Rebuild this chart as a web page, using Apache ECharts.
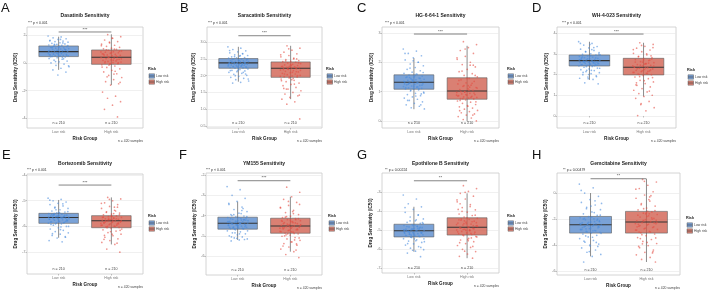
<!DOCTYPE html>
<html><head><meta charset="utf-8">
<script src="https://cdn.jsdelivr.net/npm/echarts@6/dist/echarts.min.js"></script>
<style>html,body{margin:0;padding:0;background:#fff}#c{width:708px;height:291px}</style>
</head><body><div id="c"></div>
<script>
// ---------------- DATA ----------------
const letters = ['A','B','C','D','E','F','G','H'];
const titles = ['Dasatinib Sensitivity','Saracatinib Sensitivity','HG-6-64-1 Sensitivity','WH-4-023 Sensitivity',
  'Bortezomib Sensitivity','YM155 Sensitivity','Epothilone B Sensitivity','Gemcitabine Sensitivity'];
const pTexts = ['*** p < 0.001','*** p < 0.001','*** p < 0.001','*** p < 0.001',
  '*** p < 0.001','*** p < 0.001','** p = 0.00224','** p = 0.00479'];
const sigMarks = ['***','***','***','***','***','***','**','**'];
const sigY = [2.24, 3.19, 2.96, 3.95, -4.39, -2.28, -2.39, 1.1];
const groups = ['Low risk','High risk'];
const nLabels = ['n = 210','n = 210'];
const totalLabel = 'n = 420 samples';
const legendTitle = 'Risk';
const yTicks = [[-4,-2,0,2],[0.5,1,1.5,2,2.5,3],[0,1,2,3],[0,1,2,3,4],[-7,-6,-5,-4],[-6,-5,-4,-3,-2],[-7,-6,-5,-4,-3],[-6,-4,-2,0]];

// box stats: [min, q1, median, q3, max]
const boxA_low = [-0.5,0.46,0.82,1.23,1.9],   boxA_high = [-1.59,-0.1,0.41,0.94,2.07];
const boxB_low = [1.82,2.22,2.38,2.51,2.86],  boxB_high = [1.30,1.95,2.22,2.41,2.89];
const boxC_low = [0.40,1.08,1.32,1.57,2.14],  boxC_high = [0.0,0.74,1.02,1.47,2.56];
const boxD_low = [1.74,2.41,2.67,2.94,3.58],  boxD_high = [0.94,1.98,2.35,2.78,3.53];
const boxE_low = [-6.44,-5.88,-5.65,-5.49,-4.97], boxE_high = [-6.70,-6.05,-5.78,-5.58,-4.87];
const boxF_low = [-5.2,-4.67,-4.38,-4.08,-3.31],  boxF_high = [-5.78,-4.87,-4.51,-4.13,-3.07];
const boxG_low = [-6.13,-5.35,-5.02,-4.68,-3.76], boxG_high = [-6.47,-5.25,-4.84,-4.34,-3.05];
const boxH_low = [-4.87,-3.08,-2.44,-1.8,0.0],    boxH_high = [-5.3,-3.08,-2.23,-1.41,1.08];

// individual sample values (read from the jittered points)
const ptsA_low = [1.95,1.88,1.82,1.75,1.7,1.64,1.58,1.55,1.5,1.46,1.42,1.38,1.34,1.3,1.27,
 1.22,1.19,1.16,1.13,1.1,1.07,1.04,1.01,0.98,0.95,0.92,0.9,0.88,0.86,0.84,
 0.8,0.77,0.75,0.72,0.7,0.67,0.65,0.62,0.6,0.58,0.55,0.53,0.51,0.49,0.47,
 0.43,0.38,0.33,0.27,0.2,0.14,0.08,0.0,-0.08,-0.17,-0.27,-0.38,-0.5,-0.66,-0.87,
 1.6,1.45,1.3,1.25,1.2,1.1,1.0,0.9,0.85,0.75,0.65,0.55,0.5,0.45,0.3,0.1,-0.2,1.7,1.15,0.95,0.7,0.6,0.4,1.35];
const ptsA_high = [2.05,1.9,1.78,1.66,1.55,1.45,1.36,1.28,1.2,1.13,1.07,1.02,0.98,
 0.92,0.87,0.82,0.78,0.74,0.7,0.66,0.62,0.58,0.55,0.51,0.48,0.45,0.43,
 0.39,0.35,0.31,0.27,0.23,0.19,0.15,0.11,0.07,0.03,0.0,-0.04,-0.08,
 -0.13,-0.22,-0.32,-0.42,-0.53,-0.65,-0.78,-0.9,-1.05,-1.2,-1.35,-1.5,-1.6,
 -2.1,-2.4,-2.55,-2.8,-3.05,-3.35,-3.9,
 1.5,1.25,1.0,0.95,0.85,0.75,0.65,0.5,0.4,0.3,0.2,0.1,0.0,-0.05,-0.3,-0.6,-1.0,-1.4,1.8,0.6,0.25,-0.15,0.8,-0.8];
const ptsB_low = [2.86,2.82,2.78,2.74,2.71,2.68,2.65,2.62,2.6,2.58,2.56,2.54,2.53,2.52,
 2.5,2.49,2.47,2.46,2.45,2.44,2.43,2.42,2.41,2.40,2.39,2.38,
 2.37,2.36,2.35,2.34,2.33,2.32,2.31,2.30,2.29,2.28,2.27,2.26,2.25,2.24,2.23,2.22,
 2.2,2.18,2.16,2.14,2.12,2.1,2.07,2.04,2.01,1.98,1.95,1.92,1.88,1.84,1.8,1.78,2.05,2.15,
 2.75,2.66,2.57,2.5,2.45,2.42,2.39,2.36,2.33,2.3,2.27,2.24,2.2,2.15,2.1,2.0,1.9,2.6,2.48,2.35,2.28,2.38,2.32,2.4];
const ptsB_high = [2.89,2.82,2.76,2.7,2.65,2.6,2.56,2.52,2.48,2.45,2.43,2.42,
 2.4,2.38,2.36,2.34,2.32,2.3,2.28,2.27,2.26,2.25,2.24,2.23,2.22,
 2.21,2.19,2.17,2.15,2.13,2.11,2.09,2.07,2.05,2.03,2.01,1.99,1.97,1.96,
 1.93,1.9,1.86,1.82,1.78,1.74,1.7,1.65,1.6,1.55,1.5,1.45,1.4,1.35,1.3,1.22,1.15,0.71,1.88,1.62,2.5,
 2.8,2.62,2.5,2.44,2.38,2.33,2.28,2.24,2.2,2.16,2.1,2.05,2.0,1.96,1.85,1.75,1.6,1.42,2.3,2.18,2.12,2.25,1.98,1.92];
const ptsC_low = [2.45,2.38,2.3,2.22,2.15,2.08,2.0,1.94,1.88,1.82,1.76,1.71,1.66,1.62,1.59,
 1.56,1.53,1.5,1.48,1.46,1.44,1.42,1.4,1.38,1.36,1.34,1.33,
 1.31,1.29,1.27,1.25,1.23,1.21,1.19,1.17,1.15,1.13,1.11,1.1,1.09,
 1.06,1.02,0.98,0.94,0.9,0.86,0.82,0.78,0.74,0.7,0.65,0.6,0.55,0.5,0.45,0.41,1.6,1.25,0.92,2.05,
 2.3,2.0,1.8,1.65,1.55,1.5,1.45,1.4,1.35,1.3,1.28,1.22,1.18,1.14,1.1,1.05,0.95,0.85,0.7,0.55,1.38,1.26,1.16,1.48];
const ptsC_high = [2.7,2.6,2.5,2.4,2.3,2.2,2.1,2.0,1.92,1.84,1.76,1.68,1.61,1.55,1.5,
 1.45,1.4,1.35,1.3,1.26,1.22,1.18,1.14,1.1,1.07,1.04,
 1.0,0.97,0.94,0.92,0.9,0.88,0.86,0.84,0.82,0.8,0.78,0.76,0.75,
 0.72,0.68,0.64,0.6,0.56,0.52,0.48,0.44,0.4,0.36,0.32,0.28,0.24,0.2,0.15,0.1,0.05,0.0,1.2,0.7,1.9,
 2.45,2.15,1.9,1.7,1.55,1.45,1.38,1.28,1.2,1.12,1.05,1.0,0.95,0.9,0.85,0.8,0.76,0.65,0.5,0.35,0.2,0.98,0.88,1.15];
const ptsD_low = [3.58,3.5,3.42,3.35,3.28,3.22,3.16,3.1,3.05,3.0,2.97,
 2.93,2.9,2.87,2.84,2.81,2.78,2.76,2.74,2.72,2.7,2.68,
 2.66,2.64,2.62,2.6,2.58,2.56,2.54,2.52,2.5,2.48,2.46,2.44,2.42,
 2.39,2.35,2.31,2.27,2.23,2.19,2.14,2.09,2.04,1.99,1.94,1.88,1.82,1.76,1.6,1.55,
 3.45,2.8,2.55,2.2,2.95,3.2,2.62,2.45,2.0,
 3.5,3.3,3.1,2.98,2.9,2.85,2.8,2.75,2.7,2.65,2.6,2.55,2.5,2.47,2.43,2.38,2.3,2.2,2.1,1.9,1.8,2.72,2.58,2.64];
const ptsD_high = [3.53,3.45,3.36,3.27,3.18,3.1,3.02,2.95,2.88,2.82,
 2.77,2.72,2.67,2.62,2.57,2.52,2.48,2.44,2.4,2.37,
 2.33,2.3,2.27,2.24,2.2,2.17,2.14,2.1,2.06,2.02,1.99,
 1.95,1.88,1.8,1.72,1.64,1.56,1.48,1.4,1.32,1.24,1.16,1.08,1.0,0.94,
 0.85,0.7,0.55,0.4,0.25,0.02,2.9,2.6,2.35,2.15,1.9,3.3,2.5,1.6,2.7,
 3.4,3.2,3.0,2.85,2.75,2.7,2.6,2.55,2.45,2.4,2.32,2.28,2.22,2.18,2.1,2.05,2.0,1.85,1.7,1.5,1.2,0.6,2.42,2.52];
const ptsE_low = [-4.9,-4.95,-5.0,-5.05,-5.1,-5.15,-5.2,-5.25,-5.3,-5.35,-5.4,-5.44,-5.47,
 -5.5,-5.52,-5.54,-5.56,-5.58,-5.6,-5.62,-5.63,-5.64,-5.65,
 -5.66,-5.68,-5.7,-5.72,-5.74,-5.76,-5.78,-5.8,-5.82,-5.84,-5.86,-5.87,
 -5.9,-5.95,-6.0,-6.05,-6.1,-6.15,-6.2,-6.25,-6.3,-6.35,-6.4,-6.45,-6.55,-6.6,
 -5.55,-5.75,-5.45,-5.92,-5.62,-5.35,-5.7,-6.02,-5.58,-5.8,-5.68,
 -4.98,-5.12,-5.28,-5.42,-5.48,-5.53,-5.57,-5.61,-5.64,-5.67,-5.71,-5.75,-5.79,-5.83,-5.86,-5.9,-6.0,-6.12,-6.28,-6.42,-5.6,-5.72,-5.66,-5.5];
const ptsE_high = [-4.87,-4.93,-5.0,-5.08,-5.15,-5.22,-5.3,-5.37,-5.43,-5.48,-5.52,-5.55,
 -5.59,-5.62,-5.65,-5.68,-5.7,-5.72,-5.74,-5.76,-5.77,
 -5.79,-5.81,-5.84,-5.87,-5.9,-5.93,-5.96,-5.99,-6.02,-6.04,
 -6.08,-6.13,-6.18,-6.24,-6.3,-6.36,-6.42,-6.48,-6.55,-6.62,-6.7,-6.88,-7.0,
 -5.6,-5.85,-5.95,-5.7,-6.1,-5.5,-5.78,-5.9,-6.2,-5.65,-5.4,-6.0,-5.82,-5.75,-6.35,-5.25,
 -4.95,-5.1,-5.25,-5.45,-5.55,-5.6,-5.64,-5.7,-5.73,-5.78,-5.8,-5.83,-5.86,-5.9,-5.95,-6.0,-6.05,-6.15,-6.3,-6.5,-6.65,-5.75,-5.88,-5.68];
const ptsF_low = [-2.57,-2.72,-3.0,-3.15,-3.3,-3.45,-3.58,-3.7,-3.8,-3.88,-3.95,-4.02,-4.06,
 -4.1,-4.14,-4.18,-4.22,-4.25,-4.28,-4.31,-4.34,-4.36,-4.38,
 -4.4,-4.43,-4.46,-4.49,-4.52,-4.55,-4.58,-4.61,-4.64,-4.66,
 -4.7,-4.75,-4.8,-4.85,-4.9,-4.95,-5.0,-5.05,-5.1,-5.15,-5.2,-5.25,
 -4.2,-4.45,-4.3,-3.9,-4.6,-4.12,-4.5,-4.35,-3.65,-4.85,-4.25,-4.4,-4.0,-4.55,-5.12,
 -3.4,-3.75,-3.95,-4.05,-4.1,-4.15,-4.2,-4.27,-4.33,-4.37,-4.42,-4.48,-4.53,-4.58,-4.63,-4.67,-4.75,-4.9,-5.05,-5.18,-4.32,-4.46,-4.22,-4.6];
const ptsF_high = [-2.6,-2.85,-3.07,-3.2,-3.35,-3.5,-3.62,-3.74,-3.85,-3.95,-4.03,-4.1,
 -4.15,-4.2,-4.25,-4.3,-4.35,-4.4,-4.44,-4.48,-4.51,
 -4.54,-4.58,-4.62,-4.66,-4.7,-4.74,-4.78,-4.82,-4.86,
 -4.9,-4.96,-5.02,-5.08,-5.15,-5.22,-5.3,-5.38,-5.46,-5.55,-5.65,-5.78,-5.92,-6.07,
 -4.3,-4.6,-4.2,-4.9,-4.45,-3.8,-5.0,-4.7,-4.55,-4.25,-5.2,-4.05,-3.45,-4.8,-4.4,-5.4,
 -3.3,-3.6,-3.9,-4.08,-4.15,-4.22,-4.28,-4.36,-4.42,-4.5,-4.55,-4.6,-4.66,-4.72,-4.8,-4.88,-4.95,-5.1,-5.3,-5.5,-5.7,-4.48,-4.62,-4.35];
const ptsG_low = [-3.14,-3.35,-3.6,-3.76,-3.9,-4.05,-4.18,-4.3,-4.4,-4.5,-4.58,-4.64,
 -4.7,-4.74,-4.78,-4.82,-4.86,-4.9,-4.93,-4.96,-4.99,-5.01,
 -5.03,-5.06,-5.09,-5.12,-5.15,-5.18,-5.21,-5.24,-5.27,-5.3,-5.33,
 -5.38,-5.44,-5.5,-5.57,-5.64,-5.71,-5.78,-5.86,-5.94,-6.02,-6.1,-6.2,-6.39,
 -4.95,-5.1,-4.8,-5.2,-4.6,-5.45,-5.0,-4.88,-5.25,-5.6,-4.45,-5.05,-5.15,-4.75,
 -3.8,-4.2,-4.5,-4.65,-4.72,-4.8,-4.85,-4.92,-4.98,-5.02,-5.07,-5.13,-5.19,-5.26,-5.31,-5.36,-5.45,-5.55,-5.7,-5.9,-6.05,-5.0,-4.9,-5.12];
const ptsG_high = [-2.65,-2.8,-2.95,-3.05,-3.2,-3.35,-3.5,-3.65,-3.8,-3.92,-4.04,-4.14,-4.22,-4.3,
 -4.37,-4.42,-4.47,-4.52,-4.57,-4.62,-4.67,-4.72,-4.77,-4.82,
 -4.86,-4.9,-4.94,-4.98,-5.02,-5.06,-5.1,-5.14,-5.18,-5.22,
 -5.28,-5.35,-5.43,-5.51,-5.6,-5.7,-5.8,-5.9,-6.0,-6.12,-6.25,-6.37,-6.47,
 -4.5,-4.8,-5.0,-4.4,-5.2,-4.65,-3.9,-5.4,-4.95,-4.6,-5.55,-3.6,-4.75,
 -3.0,-3.4,-3.75,-4.0,-4.2,-4.35,-4.45,-4.55,-4.65,-4.75,-4.83,-4.88,-4.92,-5.0,-5.08,-5.16,-5.24,-5.32,-5.48,-5.65,-5.85,-6.1,-4.7,-4.98];
const ptsH_low = [0.69,0.4,0.0,-0.25,-0.5,-0.72,-0.92,-1.1,-1.28,-1.45,-1.6,-1.72,
 -1.82,-1.9,-1.98,-2.06,-2.14,-2.22,-2.3,-2.37,-2.42,
 -2.47,-2.53,-2.6,-2.67,-2.74,-2.81,-2.88,-2.95,-3.02,-3.06,
 -3.15,-3.25,-3.37,-3.5,-3.64,-3.78,-3.92,-4.07,-4.22,-4.38,-4.55,-4.72,-4.87,-5.3,
 -2.0,-2.5,-2.8,-1.5,-3.3,-2.2,-1.0,-2.65,-3.8,-2.35,-0.8,-2.9,-1.95,-2.55,-4.0,
 0.2,-0.6,-1.2,-1.7,-1.85,-2.0,-2.1,-2.25,-2.35,-2.45,-2.55,-2.62,-2.7,-2.8,-2.9,-3.0,-3.1,-3.4,-3.7,-4.1,-4.5,-2.4,-2.2,-2.75];
const ptsH_high = [1.05,0.85,0.6,0.35,0.1,-0.15,-0.4,-0.62,-0.82,-1.0,-1.15,-1.3,
 -1.45,-1.55,-1.65,-1.75,-1.85,-1.95,-2.05,-2.13,-2.2,
 -2.27,-2.36,-2.45,-2.55,-2.65,-2.75,-2.85,-2.95,-3.05,
 -3.15,-3.28,-3.42,-3.57,-3.72,-3.88,-4.04,-4.2,-4.38,-4.56,-4.75,-4.95,-5.1,-5.3,
 -1.8,-2.4,-2.0,-1.2,-2.8,-0.5,-3.5,-2.3,-1.6,-2.6,-0.2,-3.9,-2.1,-1.4,-3.0,-4.5,
 0.9,0.3,-0.3,-0.9,-1.35,-1.5,-1.7,-1.9,-2.1,-2.25,-2.4,-2.5,-2.6,-2.7,-2.85,-3.0,-3.2,-3.45,-3.8,-4.1,-4.6,-2.15,-2.35,-1.6];

const ptsLow  = [ptsA_low, ptsB_low, ptsC_low, ptsD_low, ptsE_low, ptsF_low, ptsG_low, ptsH_low];
const ptsHigh = [ptsA_high, ptsB_high, ptsC_high, ptsD_high, ptsE_high, ptsF_high, ptsG_high, ptsH_high];
const boxLow  = [boxA_low, boxB_low, boxC_low, boxD_low, boxE_low, boxF_low, boxG_low, boxH_low];
const boxHigh = [boxA_high, boxB_high, boxC_high, boxD_high, boxE_high, boxF_high, boxG_high, boxH_high];

// ---------------- LAYOUT / STYLE ----------------
const layout = [
 {gx:27, gw:116, gy:27, gh:101, ymin:-4.7, ymax:2.6, legX:148, legY:69, titleY:16, pX:28, pY:23, letX:1, letY:2, dec:0},
 {gx:207,gw:115, gy:27, gh:101, ymin:0.44, ymax:3.45, legX:326, legY:69, titleY:16, pX:208, pY:23, letX:180, letY:2, dec:1},
 {gx:382,gw:117, gy:27, gh:101, ymin:-0.24,ymax:3.2, legX:507, legY:69, titleY:16, pX:385, pY:23, letX:357, letY:2, dec:0},
 {gx:557,gw:119, gy:27, gh:101, ymin:-0.58,ymax:4.29, legX:687, legY:70, titleY:16, pX:562, pY:23, letX:532, letY:2, dec:0},
 {gx:27, gw:116, gy:174,gh:100, ymin:-7.85,ymax:-3.96,legX:148, legY:216,titleY:164,pX:27, pY:170,letX:2, letY:149,dec:0},
 {gx:206,gw:116, gy:173,gh:102, ymin:-6.93,ymax:-1.9, legX:328, legY:216,titleY:164,pX:206, pY:170,letX:179, letY:149,dec:0},
 {gx:382,gw:117, gy:173,gh:100, ymin:-7.25,ymax:-1.98,legX:507, legY:216,titleY:164,pX:385, pY:170,letX:357, letY:149,dec:0},
 {gx:557,gw:123, gy:173,gh:102, ymin:-6.3, ymax:1.54, legX:686, legY:218,titleY:164,pX:563, pY:170,letX:532, letY:149,dec:0},
];
const FONT = 'Liberation Sans, Arial, Helvetica, sans-serif';
const boxFill = ['rgba(84,136,204,0.78)','rgba(208,92,76,0.78)'];
const ptColor = ['rgba(74,140,222,0.75)','rgba(228,76,66,0.75)'];
const jit = k => (((k * 0.6180339887) % 1) - 0.5) * 0.4;

const grids = [], xAxes = [], yAxes = [], series = [], graphics = [];

function renderBox(params, api) {
  const x = api.value(0);
  const mn = api.value(1), q1 = api.value(2), md = api.value(3), q3 = api.value(4), mx = api.value(5);
  const hw = 0.375;
  const pMin = api.coord([x, mn]), pMax = api.coord([x, mx]);
  const a = api.coord([x - hw, q1]), b = api.coord([x + hw, q3]);
  const m1 = api.coord([x - hw, md]), m2 = api.coord([x + hw, md]);
  return {type:'group', children:[
    {type:'line', shape:{x1:pMin[0], y1:pMin[1], x2:pMax[0], y2:pMax[1]}, style:{stroke:'#8c8c8c', lineWidth:1}},
    {type:'rect', shape:{x:a[0], y:b[1], width:b[0]-a[0], height:a[1]-b[1]}, style:{fill: boxFill[x-1], stroke:'#5c5c5c', lineWidth:0.6}},
    {type:'line', shape:{x1:m1[0], y1:m1[1], x2:m2[0], y2:m2[1]}, style:{stroke:'#333', lineWidth:1.1}}
  ]};
}

layout.forEach((L, i) => {
  grids.push({left:L.gx, top:L.gy, width:L.gw, height:L.gh, show:true, borderColor:'#c9c9c9', borderWidth:0.8, backgroundColor:'#fff', containLabel:false});
  xAxes.push({gridIndex:i, type:'value', min:0.4, max:2.6,
    axisLine:{show:false}, splitLine:{show:false},
    axisTick:{show:true, customValues:[1,2], length:1.5, lineStyle:{color:'#999', width:0.6}},
    axisLabel:{customValues:[1,2], formatter: v => groups[Math.round(v)-1], fontSize:3.6, color:'#777', margin:2, fontFamily:FONT},
    name:'Risk Group', nameLocation:'middle', nameGap:8,
    nameTextStyle:{fontSize:4.6, fontWeight:'bold', color:'#222', fontFamily:FONT}});
  yAxes.push({gridIndex:i, type:'value', min:L.ymin, max:L.ymax,
    axisLine:{show:false},
    axisTick:{show:true, customValues:yTicks[i], length:1.5, lineStyle:{color:'#999', width:0.6}},
    axisLabel:{customValues:yTicks[i], fontSize:3.6, color:'#777', margin:1.5, fontFamily:FONT,
      formatter: v => L.dec ? v.toFixed(L.dec) : String(v)},
    splitLine:{show:true, lineStyle:{color:'#e6e6e6', width:0.6}},
    name:'Drug Sensitivity (IC50)', nameLocation:'middle', nameGap:7, nameRotate:90,
    nameTextStyle:{fontSize:4.6, fontWeight:'bold', color:'#222', fontFamily:FONT}});

  series.push({type:'custom', xAxisIndex:i, yAxisIndex:i, z:2, renderItem:renderBox, silent:true,
    data:[[1].concat(boxLow[i]), [2].concat(boxHigh[i])]});
  series.push({type:'scatter', xAxisIndex:i, yAxisIndex:i, z:3, symbolSize:1.7, silent:true,
    itemStyle:{color:ptColor[0]}, data: ptsLow[i].map((v,k) => [1 + jit(k), v])});
  series.push({type:'scatter', xAxisIndex:i, yAxisIndex:i, z:3, symbolSize:1.7, silent:true,
    itemStyle:{color:ptColor[1]}, data: ptsHigh[i].map((v,k) => [2 + jit(k + 7), v])});
  // significance bracket
  series.push({type:'custom', xAxisIndex:i, yAxisIndex:i, z:4, silent:true, data:[[1, 2, sigY[i]]],
    renderItem:(p, api) => {
      const p1 = api.coord([api.value(0), api.value(2)]), p2 = api.coord([api.value(1), api.value(2)]);
      return {type:'group', children:[
        {type:'line', shape:{x1:p1[0], y1:p1[1], x2:p2[0], y2:p2[1]}, style:{stroke:'#666', lineWidth:0.8}},
        {type:'text', style:{text:sigMarks[i], x:(p1[0]+p2[0])/2, y:p1[1]-0.5, align:'center', verticalAlign:'bottom', fontSize:4.2, fill:'#333', fontFamily:FONT}}
      ]};
    }});
  // n labels
  series.push({type:'custom', xAxisIndex:i, yAxisIndex:i, z:4, silent:true, data:[[1],[2]],
    renderItem:(p, api) => {
      const x = api.value(0);
      const c = api.coord([x, L.ymin]);
      return {type:'text', style:{text:nLabels[x-1], x:c[0], y:c[1]-5, align:'center', verticalAlign:'middle', fontSize:3.6, fill:'#444', fontFamily:FONT}};
    }});

  // annotations
  graphics.push({type:'text', left:L.letX, top:L.letY, style:{text:letters[i], fontSize:13, fill:'#111', fontFamily:FONT}});
  graphics.push({type:'text', x:L.gx + L.gw/2, y:L.titleY, style:{text:titles[i], align:'center', verticalAlign:'middle', fontSize:5, fontWeight:'bold', fill:'#222', fontFamily:FONT}});
  graphics.push({type:'text', x:L.pX, y:L.pY, style:{text:pTexts[i], align:'left', verticalAlign:'middle', fontSize:3.5, fill:'#333', fontFamily:FONT}});
  graphics.push({type:'text', x:L.gx + L.gw, y:L.gy + L.gh + 13, style:{text:totalLabel, align:'right', verticalAlign:'middle', fontSize:3.4, fill:'#444', fontFamily:FONT}});
  graphics.push({type:'text', x:L.legX, y:L.legY, style:{text:legendTitle, align:'left', verticalAlign:'middle', fontSize:3.8, fontWeight:'bold', fill:'#222', fontFamily:FONT}});
  [0,1].forEach(g => {
    const cy = L.legY + 7 + g*6;
    graphics.push({type:'rect', shape:{x:L.legX+1, y:cy-2.2, width:5.5, height:4.4}, style:{fill:boxFill[g], stroke:'#5c5c5c', lineWidth:0.5}});
    graphics.push({type:'line', shape:{x1:L.legX+1, y1:cy, x2:L.legX+6.5, y2:cy}, style:{stroke:'#333', lineWidth:0.6}});
    graphics.push({type:'text', x:L.legX+8, y:cy, style:{text:groups[g], align:'left', verticalAlign:'middle', fontSize:3.4, fill:'#444', fontFamily:FONT}});
  });
});

const chart = echarts.init(document.getElementById('c'), null, {renderer:'canvas'});
chart.setOption({animation:false, backgroundColor:'#fff', grid:grids, xAxis:xAxes, yAxis:yAxes, series:series, graphic:graphics});
</script></body></html>
